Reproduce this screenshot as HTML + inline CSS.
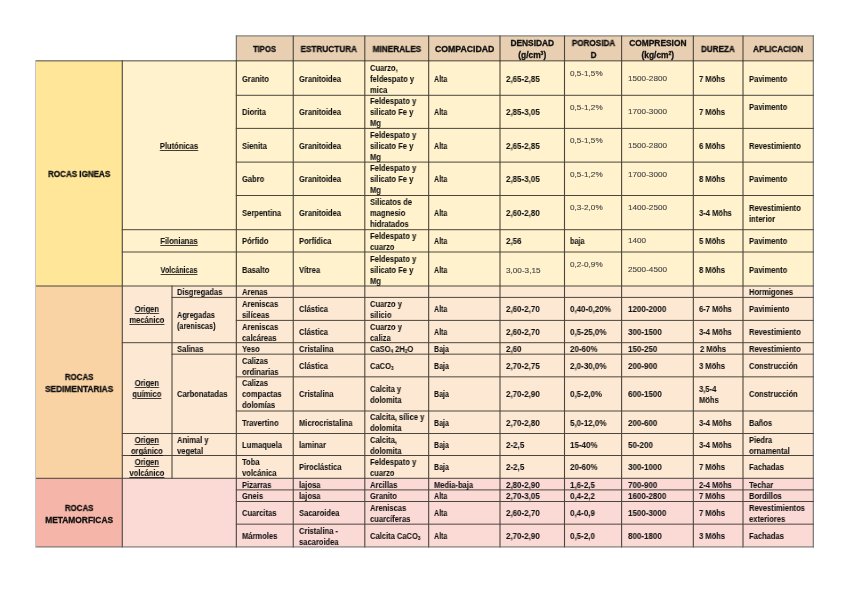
<!DOCTYPE html>
<html><head><meta charset="utf-8"><style>
html,body{margin:0;padding:0;background:#fff;}
body{width:848px;height:599px;position:relative;overflow:hidden;font-family:"Liberation Sans",sans-serif;}
.b{position:absolute}
.th,.td,.tg{position:absolute;white-space:nowrap;color:#111;will-change:transform}
.th{font-weight:bold;-webkit-text-stroke:0.3px #111}
.td{font-weight:bold;-webkit-text-stroke:0.05px #111}
.tg{color:#444;font-weight:normal;-webkit-text-stroke:0.12px #444}
sub{font-size:60%;vertical-align:-1px;line-height:0}
sup{font-size:60%;vertical-align:3px;line-height:0}
u{text-decoration-thickness:1px;text-underline-offset:0.6px;text-decoration-color:rgba(0,0,0,0.75)}
svg{position:absolute;left:0;top:0}
</style></head><body>
<div class="b" style="left:236.33px;top:35.9px;width:56.92px;height:24.95px;background:#E9CFB1"></div><div class="b" style="left:293.25px;top:35.9px;width:71.55px;height:24.95px;background:#E9CFB1"></div><div class="b" style="left:364.8px;top:35.9px;width:63.87px;height:24.95px;background:#E9CFB1"></div><div class="b" style="left:428.67px;top:35.9px;width:71.33px;height:24.95px;background:#E9CFB1"></div><div class="b" style="left:500.0px;top:35.9px;width:64.50px;height:24.95px;background:#E9CFB1"></div><div class="b" style="left:564.5px;top:35.9px;width:57.10px;height:24.95px;background:#E9CFB1"></div><div class="b" style="left:621.6px;top:35.9px;width:71.73px;height:24.95px;background:#E9CFB1"></div><div class="b" style="left:693.33px;top:35.9px;width:49.67px;height:24.95px;background:#E9CFB1"></div><div class="b" style="left:743.0px;top:35.9px;width:70.30px;height:24.95px;background:#E9CFB1"></div><div class="b" style="left:36.0px;top:60.85px;width:86.30px;height:225.15px;background:#FFE699"></div><div class="b" style="left:122.3px;top:60.85px;width:691.00px;height:225.15px;background:#FFF2CC"></div><div class="b" style="left:36.0px;top:286.0px;width:86.30px;height:192.30px;background:#FAD3A4"></div><div class="b" style="left:122.3px;top:286.0px;width:691.00px;height:192.30px;background:#FDE9D3"></div><div class="b" style="left:36.0px;top:478.3px;width:86.30px;height:68.65px;background:#F5B5A8"></div><div class="b" style="left:122.3px;top:478.3px;width:691.00px;height:68.65px;background:#FBDAD6"></div>
<svg width="848" height="599" stroke="#4b463c" shape-rendering="geometricPrecision"><line x1="235.83" y1="35.9" x2="813.8" y2="35.9" stroke-width="1.0" stroke="#686868"/><line x1="236.33" y1="35.4" x2="236.33" y2="61.35" stroke-width="1.1" stroke="#686868"/><line x1="293.25" y1="35.4" x2="293.25" y2="61.35" stroke-width="1.1"/><line x1="364.8" y1="35.4" x2="364.8" y2="61.35" stroke-width="1.1"/><line x1="428.67" y1="35.4" x2="428.67" y2="61.35" stroke-width="1.1"/><line x1="500.0" y1="35.4" x2="500.0" y2="61.35" stroke-width="1.1"/><line x1="564.5" y1="35.4" x2="564.5" y2="61.35" stroke-width="1.1"/><line x1="621.6" y1="35.4" x2="621.6" y2="61.35" stroke-width="1.1"/><line x1="693.33" y1="35.4" x2="693.33" y2="61.35" stroke-width="1.1"/><line x1="743.0" y1="35.4" x2="743.0" y2="61.35" stroke-width="1.1"/><line x1="813.3" y1="35.4" x2="813.3" y2="61.35" stroke-width="1.1" stroke="#686868"/><line x1="35.5" y1="60.85" x2="813.8" y2="60.85" stroke-width="1.0"/><line x1="122.3" y1="60.35" x2="122.3" y2="547.45" stroke-width="1.1"/><line x1="236.33" y1="60.35" x2="236.33" y2="547.45" stroke-width="1.1"/><line x1="293.25" y1="60.35" x2="293.25" y2="547.45" stroke-width="1.1"/><line x1="364.8" y1="60.35" x2="364.8" y2="547.45" stroke-width="1.1"/><line x1="428.67" y1="60.35" x2="428.67" y2="547.45" stroke-width="1.1"/><line x1="500.0" y1="60.35" x2="500.0" y2="547.45" stroke-width="1.1"/><line x1="564.5" y1="60.35" x2="564.5" y2="547.45" stroke-width="1.1"/><line x1="621.6" y1="60.35" x2="621.6" y2="547.45" stroke-width="1.1"/><line x1="693.33" y1="60.35" x2="693.33" y2="547.45" stroke-width="1.1"/><line x1="743.0" y1="60.35" x2="743.0" y2="547.45" stroke-width="1.1"/><line x1="813.3" y1="60.35" x2="813.3" y2="547.45" stroke-width="1.1" stroke="#686868"/><line x1="172.0" y1="285.5" x2="172.0" y2="478.8" stroke-width="1.1"/><line x1="235.83" y1="95.3" x2="813.8" y2="95.3" stroke-width="1.0"/><line x1="235.83" y1="128.4" x2="813.8" y2="128.4" stroke-width="1.0"/><line x1="235.83" y1="162.1" x2="813.8" y2="162.1" stroke-width="1.0"/><line x1="235.83" y1="195.5" x2="813.8" y2="195.5" stroke-width="1.0"/><line x1="121.8" y1="229.7" x2="813.8" y2="229.7" stroke-width="1.0"/><line x1="121.8" y1="252.0" x2="813.8" y2="252.0" stroke-width="1.0"/><line x1="35.5" y1="286.0" x2="813.8" y2="286.0" stroke-width="1.0"/><line x1="171.5" y1="297.4" x2="813.8" y2="297.4" stroke-width="1.0"/><line x1="235.83" y1="320.4" x2="813.8" y2="320.4" stroke-width="1.0"/><line x1="121.8" y1="342.7" x2="813.8" y2="342.7" stroke-width="1.0"/><line x1="171.5" y1="354.15" x2="813.8" y2="354.15" stroke-width="1.0"/><line x1="235.83" y1="376.85" x2="813.8" y2="376.85" stroke-width="1.0"/><line x1="235.83" y1="411.0" x2="813.8" y2="411.0" stroke-width="1.0"/><line x1="121.8" y1="433.5" x2="813.8" y2="433.5" stroke-width="1.0"/><line x1="121.8" y1="455.5" x2="813.8" y2="455.5" stroke-width="1.0"/><line x1="35.5" y1="478.3" x2="813.8" y2="478.3" stroke-width="1.0"/><line x1="235.83" y1="489.9" x2="813.8" y2="489.9" stroke-width="1.0"/><line x1="235.83" y1="501.5" x2="813.8" y2="501.5" stroke-width="1.0"/><line x1="235.83" y1="524.15" x2="813.8" y2="524.15" stroke-width="1.0"/><line x1="35.5" y1="546.95" x2="813.8" y2="546.95" stroke-width="1.0" stroke="#686868"/><line x1="35.5" y1="60.85" x2="35.5" y2="547.45" stroke="#c4c4cc" stroke-width="1"/></svg>
<div class="th" style="left:236.33px;width:56.92px;top:43.46px;text-align:center;font-size:8.4px;line-height:12px;transform:scaleX(0.92);transform-origin:50% 0">TIPOS</div><div class="th" style="left:293.25px;width:71.55px;top:43.46px;text-align:center;font-size:8.4px;line-height:12px;transform:scaleX(0.98);transform-origin:50% 0">ESTRUCTURA</div><div class="th" style="left:364.80px;width:63.87px;top:43.46px;text-align:center;font-size:8.4px;line-height:12px;transform:scaleX(0.98);transform-origin:50% 0">MINERALES</div><div class="th" style="left:428.67px;width:71.33px;top:43.46px;text-align:center;font-size:8.4px;line-height:12px;transform:scaleX(1.04);transform-origin:50% 0">COMPACIDAD</div><div class="th" style="left:500.00px;width:64.50px;top:37.46px;text-align:center;font-size:8.4px;line-height:12px;transform-origin:50% 0">DENSIDAD<br>(g/cm<sup>3</sup>)</div><div class="th" style="left:564.50px;width:57.10px;top:37.46px;text-align:center;font-size:8.4px;line-height:12px;transform:scaleX(0.97);transform-origin:50% 0">POROSIDA<br>D</div><div class="th" style="left:621.60px;width:71.73px;top:37.46px;text-align:center;font-size:8.4px;line-height:12px;transform-origin:50% 0">COMPRESION<br>(kg/cm<sup>2</sup>)</div><div class="th" style="left:693.33px;width:49.67px;top:43.46px;text-align:center;font-size:8.4px;line-height:12px;transform:scaleX(0.97);transform-origin:50% 0">DUREZA</div><div class="th" style="left:743.00px;width:70.30px;top:43.46px;text-align:center;font-size:8.4px;line-height:12px;transform:scaleX(0.96);transform-origin:50% 0">APLICACION</div><div class="th" style="left:36.00px;width:86.30px;top:169.01px;text-align:center;font-size:8.4px;line-height:11.0px;transform:scaleX(0.96);transform-origin:50% 0">ROCAS IGNEAS</div><div class="th" style="left:36.00px;width:86.30px;top:371.14px;text-align:center;font-size:8.4px;line-height:12px;transform:scaleX(0.94);transform-origin:50% 0">ROCAS</div><div class="th" style="left:36.00px;width:86.30px;top:383.34px;text-align:center;font-size:8.4px;line-height:12px;transform:scaleX(0.99);transform-origin:50% 0">SEDIMENTARIAS</div><div class="th" style="left:36.00px;width:86.30px;top:501.61px;text-align:center;font-size:8.4px;line-height:12px;transform:scaleX(0.94);transform-origin:50% 0">ROCAS</div><div class="th" style="left:36.00px;width:86.30px;top:513.81px;text-align:center;font-size:8.4px;line-height:12px;transform-origin:50% 0">METAMORFICAS</div><div class="td" style="left:122.30px;width:114.03px;top:140.83px;text-align:center;font-size:8.5px;line-height:11.0px;transform:scaleX(0.89);transform-origin:50% 0"><u>Plutónicas</u></div><div class="td" style="left:122.30px;width:114.03px;top:236.40px;text-align:center;font-size:8.5px;line-height:11.0px;transform:scaleX(0.89);transform-origin:50% 0"><u>Filonianas</u></div><div class="td" style="left:122.30px;width:114.03px;top:264.55px;text-align:center;font-size:8.5px;line-height:11.0px;transform:scaleX(0.84);transform-origin:50% 0"><u>Volcánicas</u></div><div class="td" style="left:122.30px;width:49.70px;top:304.40px;text-align:center;font-size:8.5px;line-height:11.0px;transform:scaleX(0.89);transform-origin:50% 0"><u>Origen<br>mecánico</u></div><div class="td" style="left:122.30px;width:49.70px;top:378.15px;text-align:center;font-size:8.5px;line-height:11.0px;transform:scaleX(0.89);transform-origin:50% 0"><u>Origen<br>químico</u></div><div class="td" style="left:122.30px;width:49.70px;top:434.55px;text-align:center;font-size:8.5px;line-height:11.0px;transform:scaleX(0.89);transform-origin:50% 0"><u>Origen<br>orgánico</u></div><div class="td" style="left:122.30px;width:49.70px;top:456.95px;text-align:center;font-size:8.5px;line-height:11.0px;transform:scaleX(0.89);transform-origin:50% 0"><u>Origen<br>volcánico</u></div><div class="td" style="left:177.30px;top:287.25px;font-size:8.5px;line-height:11.0px;transform:scaleX(0.89);transform-origin:0 0">Disgregadas</div><div class="td" style="left:177.30px;top:310.10px;font-size:8.5px;line-height:11.0px;transform:scaleX(0.86);transform-origin:0 0">Agregadas<br>(areniscas)</div><div class="td" style="left:177.30px;top:343.98px;font-size:8.5px;line-height:11.0px;transform:scaleX(0.89);transform-origin:0 0">Salinas</div><div class="td" style="left:177.30px;top:389.38px;font-size:8.5px;line-height:11.0px;transform:scaleX(0.89);transform-origin:0 0">Carbonatadas</div><div class="td" style="left:177.30px;top:434.55px;font-size:8.5px;line-height:11.0px;transform:scaleX(0.89);transform-origin:0 0">Animal y<br>vegetal</div><div class="td" style="left:241.63px;top:73.63px;font-size:8.5px;line-height:11.0px;transform:scaleX(0.89);transform-origin:0 0">Granito</div><div class="td" style="left:298.55px;top:73.63px;font-size:8.5px;line-height:11.0px;transform:scaleX(0.89);transform-origin:0 0">Granitoidea</div><div class="td" style="left:370.10px;top:62.63px;font-size:8.5px;line-height:11.0px;transform:scaleX(0.89);transform-origin:0 0">Cuarzo,<br>feldespato y<br>mica</div><div class="td" style="left:433.97px;top:73.63px;font-size:8.5px;line-height:11.0px;transform:scaleX(0.83);transform-origin:0 0">Alta</div><div class="td" style="left:505.70px;top:73.63px;font-size:8.5px;line-height:11.0px;transform:scaleX(0.94);transform-origin:0 0">2,65-2,85</div><div class="tg" style="left:569.80px;top:67.78px;font-size:8.0px;line-height:11.0px;transform:scaleX(1.02);transform-origin:0 0">0,5-1,5%</div><div class="tg" style="left:627.70px;top:72.60px;font-size:8.0px;line-height:11.0px;transform:scaleX(1.02);transform-origin:0 0">1500-2800</div><div class="td" style="left:699.13px;top:73.63px;font-size:8.5px;line-height:11.0px;transform:scaleX(0.89);transform-origin:0 0">7 Möhs</div><div class="td" style="left:749.30px;top:73.63px;font-size:8.5px;line-height:11.0px;transform:scaleX(0.89);transform-origin:0 0">Pavimento</div><div class="td" style="left:241.63px;top:107.40px;font-size:8.5px;line-height:11.0px;transform:scaleX(0.89);transform-origin:0 0">Diorita</div><div class="td" style="left:298.55px;top:107.40px;font-size:8.5px;line-height:11.0px;transform:scaleX(0.89);transform-origin:0 0">Granitoidea</div><div class="td" style="left:370.10px;top:96.40px;font-size:8.5px;line-height:11.0px;transform:scaleX(0.89);transform-origin:0 0">Feldespato y<br>silicato Fe y<br>Mg</div><div class="td" style="left:433.97px;top:107.40px;font-size:8.5px;line-height:11.0px;transform:scaleX(0.83);transform-origin:0 0">Alta</div><div class="td" style="left:505.70px;top:107.40px;font-size:8.5px;line-height:11.0px;transform:scaleX(0.94);transform-origin:0 0">2,85-3,05</div><div class="tg" style="left:569.80px;top:102.23px;font-size:8.0px;line-height:11.0px;transform:scaleX(1.02);transform-origin:0 0">0,5-1,2%</div><div class="tg" style="left:627.70px;top:106.38px;font-size:8.0px;line-height:11.0px;transform:scaleX(1.02);transform-origin:0 0">1700-3000</div><div class="td" style="left:699.13px;top:107.40px;font-size:8.5px;line-height:11.0px;transform:scaleX(0.89);transform-origin:0 0">7 Möhs</div><div class="td" style="left:749.30px;top:102.05px;font-size:8.5px;line-height:11.0px;transform:scaleX(0.89);transform-origin:0 0">Pavimento</div><div class="td" style="left:241.63px;top:140.80px;font-size:8.5px;line-height:11.0px;transform:scaleX(0.89);transform-origin:0 0">Sienita</div><div class="td" style="left:298.55px;top:140.80px;font-size:8.5px;line-height:11.0px;transform:scaleX(0.89);transform-origin:0 0">Granitoidea</div><div class="td" style="left:370.10px;top:129.80px;font-size:8.5px;line-height:11.0px;transform:scaleX(0.89);transform-origin:0 0">Feldespato y<br>silicato Fe y<br>Mg</div><div class="td" style="left:433.97px;top:140.80px;font-size:8.5px;line-height:11.0px;transform:scaleX(0.83);transform-origin:0 0">Alta</div><div class="td" style="left:505.70px;top:140.80px;font-size:8.5px;line-height:11.0px;transform:scaleX(0.94);transform-origin:0 0">2,65-2,85</div><div class="tg" style="left:569.80px;top:135.33px;font-size:8.0px;line-height:11.0px;transform:scaleX(1.02);transform-origin:0 0">0,5-1,5%</div><div class="tg" style="left:627.70px;top:139.78px;font-size:8.0px;line-height:11.0px;transform:scaleX(1.02);transform-origin:0 0">1500-2800</div><div class="td" style="left:699.13px;top:140.80px;font-size:8.5px;line-height:11.0px;transform:scaleX(0.89);transform-origin:0 0">6 Möhs</div><div class="td" style="left:749.30px;top:140.80px;font-size:8.5px;line-height:11.0px;transform:scaleX(0.89);transform-origin:0 0">Revestimiento</div><div class="td" style="left:241.63px;top:174.35px;font-size:8.5px;line-height:11.0px;transform:scaleX(0.89);transform-origin:0 0">Gabro</div><div class="td" style="left:298.55px;top:174.35px;font-size:8.5px;line-height:11.0px;transform:scaleX(0.89);transform-origin:0 0">Granitoidea</div><div class="td" style="left:370.10px;top:163.35px;font-size:8.5px;line-height:11.0px;transform:scaleX(0.89);transform-origin:0 0">Feldespato y<br>silicato Fe y<br>Mg</div><div class="td" style="left:433.97px;top:174.35px;font-size:8.5px;line-height:11.0px;transform:scaleX(0.83);transform-origin:0 0">Alta</div><div class="td" style="left:505.70px;top:174.35px;font-size:8.5px;line-height:11.0px;transform:scaleX(0.94);transform-origin:0 0">2,85-3,05</div><div class="tg" style="left:569.80px;top:169.03px;font-size:8.0px;line-height:11.0px;transform:scaleX(1.02);transform-origin:0 0">0,5-1,2%</div><div class="tg" style="left:627.70px;top:169.03px;font-size:8.0px;line-height:11.0px;transform:scaleX(1.02);transform-origin:0 0">1700-3000</div><div class="td" style="left:699.13px;top:174.35px;font-size:8.5px;line-height:11.0px;transform:scaleX(0.89);transform-origin:0 0">8 Möhs</div><div class="td" style="left:749.30px;top:174.35px;font-size:8.5px;line-height:11.0px;transform:scaleX(0.89);transform-origin:0 0">Pavimento</div><div class="td" style="left:241.63px;top:208.15px;font-size:8.5px;line-height:11.0px;transform:scaleX(0.89);transform-origin:0 0">Serpentina</div><div class="td" style="left:298.55px;top:208.15px;font-size:8.5px;line-height:11.0px;transform:scaleX(0.89);transform-origin:0 0">Granitoidea</div><div class="td" style="left:370.10px;top:197.15px;font-size:8.5px;line-height:11.0px;transform:scaleX(0.89);transform-origin:0 0">Silicatos de<br>magnesio<br>hidratados</div><div class="td" style="left:433.97px;top:208.15px;font-size:8.5px;line-height:11.0px;transform:scaleX(0.83);transform-origin:0 0">Alta</div><div class="td" style="left:505.70px;top:208.15px;font-size:8.5px;line-height:11.0px;transform:scaleX(0.94);transform-origin:0 0">2,60-2,80</div><div class="tg" style="left:569.80px;top:202.43px;font-size:8.0px;line-height:11.0px;transform:scaleX(1.02);transform-origin:0 0">0,3-2,0%</div><div class="tg" style="left:627.70px;top:202.43px;font-size:8.0px;line-height:11.0px;transform:scaleX(1.02);transform-origin:0 0">1400-2500</div><div class="td" style="left:699.13px;top:208.15px;font-size:8.5px;line-height:11.0px;transform:scaleX(0.89);transform-origin:0 0">3-4 Möhs</div><div class="td" style="left:749.30px;top:202.65px;font-size:8.5px;line-height:11.0px;transform:scaleX(0.89);transform-origin:0 0">Revestimiento<br>interior</div><div class="td" style="left:241.63px;top:236.40px;font-size:8.5px;line-height:11.0px;transform:scaleX(0.89);transform-origin:0 0">Pórfido</div><div class="td" style="left:298.55px;top:236.40px;font-size:8.5px;line-height:11.0px;transform:scaleX(0.89);transform-origin:0 0">Porfídica</div><div class="td" style="left:370.10px;top:230.90px;font-size:8.5px;line-height:11.0px;transform:scaleX(0.89);transform-origin:0 0">Feldespato y<br>cuarzo</div><div class="td" style="left:433.97px;top:236.40px;font-size:8.5px;line-height:11.0px;transform:scaleX(0.83);transform-origin:0 0">Alta</div><div class="td" style="left:505.70px;top:236.40px;font-size:8.5px;line-height:11.0px;transform:scaleX(0.94);transform-origin:0 0">2,56</div><div class="td" style="left:569.80px;top:236.40px;font-size:8.5px;line-height:11.0px;transform:scaleX(0.85);transform-origin:0 0">baja</div><div class="tg" style="left:627.70px;top:235.38px;font-size:8.0px;line-height:11.0px;transform:scaleX(1.02);transform-origin:0 0">1400</div><div class="td" style="left:699.13px;top:236.40px;font-size:8.5px;line-height:11.0px;transform:scaleX(0.89);transform-origin:0 0">5 Möhs</div><div class="td" style="left:749.30px;top:236.40px;font-size:8.5px;line-height:11.0px;transform:scaleX(0.89);transform-origin:0 0">Pavimento</div><div class="td" style="left:241.63px;top:264.55px;font-size:8.5px;line-height:11.0px;transform:scaleX(0.89);transform-origin:0 0">Basalto</div><div class="td" style="left:298.55px;top:264.55px;font-size:8.5px;line-height:11.0px;transform:scaleX(0.89);transform-origin:0 0">Vítrea</div><div class="td" style="left:370.10px;top:253.55px;font-size:8.5px;line-height:11.0px;transform:scaleX(0.89);transform-origin:0 0">Feldespato y<br>silicato Fe y<br>Mg</div><div class="td" style="left:433.97px;top:264.55px;font-size:8.5px;line-height:11.0px;transform:scaleX(0.83);transform-origin:0 0">Alta</div><div class="tg" style="left:505.70px;top:264.73px;font-size:8.0px;line-height:11.0px;transform:scaleX(1.02);transform-origin:0 0">3,00-3,15</div><div class="tg" style="left:569.80px;top:258.93px;font-size:8.0px;line-height:11.0px;transform:scaleX(1.02);transform-origin:0 0">0,2-0,9%</div><div class="tg" style="left:627.70px;top:263.53px;font-size:8.0px;line-height:11.0px;transform:scaleX(1.02);transform-origin:0 0">2500-4500</div><div class="td" style="left:699.13px;top:264.55px;font-size:8.5px;line-height:11.0px;transform:scaleX(0.89);transform-origin:0 0">8 Möhs</div><div class="td" style="left:749.30px;top:264.55px;font-size:8.5px;line-height:11.0px;transform:scaleX(0.89);transform-origin:0 0">Pavimento</div><div class="td" style="left:241.63px;top:287.25px;font-size:8.5px;line-height:11.0px;transform:scaleX(0.89);transform-origin:0 0">Arenas</div><div class="td" style="left:749.30px;top:287.25px;font-size:8.5px;line-height:11.0px;transform:scaleX(0.89);transform-origin:0 0">Hormigones</div><div class="td" style="left:241.63px;top:298.95px;font-size:8.5px;line-height:11.0px;transform:scaleX(0.89);transform-origin:0 0">Areniscas<br>silíceas</div><div class="td" style="left:298.55px;top:304.45px;font-size:8.5px;line-height:11.0px;transform:scaleX(0.89);transform-origin:0 0">Clástica</div><div class="td" style="left:370.10px;top:298.95px;font-size:8.5px;line-height:11.0px;transform:scaleX(0.89);transform-origin:0 0">Cuarzo y<br>silicio</div><div class="td" style="left:433.97px;top:304.45px;font-size:8.5px;line-height:11.0px;transform:scaleX(0.83);transform-origin:0 0">Alta</div><div class="td" style="left:505.70px;top:304.45px;font-size:8.5px;line-height:11.0px;transform:scaleX(0.94);transform-origin:0 0">2,60-2,70</div><div class="td" style="left:569.80px;top:304.45px;font-size:8.5px;line-height:11.0px;transform:scaleX(0.94);transform-origin:0 0">0,40-0,20%</div><div class="td" style="left:627.70px;top:304.45px;font-size:8.5px;line-height:11.0px;transform:scaleX(0.94);transform-origin:0 0">1200-2000</div><div class="td" style="left:699.13px;top:304.45px;font-size:8.5px;line-height:11.0px;transform:scaleX(0.89);transform-origin:0 0">6-7 Möhs</div><div class="td" style="left:749.30px;top:304.45px;font-size:8.5px;line-height:11.0px;transform:scaleX(0.89);transform-origin:0 0">Pavimiento</div><div class="td" style="left:241.63px;top:321.60px;font-size:8.5px;line-height:11.0px;transform:scaleX(0.89);transform-origin:0 0">Areniscas<br>calcáreas</div><div class="td" style="left:298.55px;top:327.10px;font-size:8.5px;line-height:11.0px;transform:scaleX(0.89);transform-origin:0 0">Clástica</div><div class="td" style="left:370.10px;top:321.60px;font-size:8.5px;line-height:11.0px;transform:scaleX(0.89);transform-origin:0 0">Cuarzo y<br>caliza</div><div class="td" style="left:433.97px;top:327.10px;font-size:8.5px;line-height:11.0px;transform:scaleX(0.83);transform-origin:0 0">Alta</div><div class="td" style="left:505.70px;top:327.10px;font-size:8.5px;line-height:11.0px;transform:scaleX(0.94);transform-origin:0 0">2,60-2,70</div><div class="td" style="left:569.80px;top:327.10px;font-size:8.5px;line-height:11.0px;transform:scaleX(0.94);transform-origin:0 0">0,5-25,0%</div><div class="td" style="left:627.70px;top:327.10px;font-size:8.5px;line-height:11.0px;transform:scaleX(0.94);transform-origin:0 0">300-1500</div><div class="td" style="left:699.13px;top:327.10px;font-size:8.5px;line-height:11.0px;transform:scaleX(0.89);transform-origin:0 0">3-4 Möhs</div><div class="td" style="left:749.30px;top:327.10px;font-size:8.5px;line-height:11.0px;transform:scaleX(0.89);transform-origin:0 0">Revestimiento</div><div class="td" style="left:241.63px;top:343.98px;font-size:8.5px;line-height:11.0px;transform:scaleX(0.89);transform-origin:0 0">Yeso</div><div class="td" style="left:298.55px;top:343.98px;font-size:8.5px;line-height:11.0px;transform:scaleX(0.89);transform-origin:0 0">Cristalina</div><div class="td" style="left:370.10px;top:343.98px;font-size:8.5px;line-height:11.0px;transform:scaleX(0.89);transform-origin:0 0">CaSO<sub>4</sub> 2H<sub>2</sub>O</div><div class="td" style="left:433.97px;top:343.98px;font-size:8.5px;line-height:11.0px;transform:scaleX(0.83);transform-origin:0 0">Baja</div><div class="td" style="left:505.70px;top:343.98px;font-size:8.5px;line-height:11.0px;transform:scaleX(0.94);transform-origin:0 0">2,60</div><div class="td" style="left:569.80px;top:343.98px;font-size:8.5px;line-height:11.0px;transform:scaleX(0.94);transform-origin:0 0">20-60%</div><div class="td" style="left:627.70px;top:343.98px;font-size:8.5px;line-height:11.0px;transform:scaleX(0.94);transform-origin:0 0">150-250</div><div class="td" style="left:700.33px;top:343.98px;font-size:8.5px;line-height:11.0px;transform:scaleX(0.89);transform-origin:0 0">2 Möhs</div><div class="td" style="left:749.30px;top:343.98px;font-size:8.5px;line-height:11.0px;transform:scaleX(0.89);transform-origin:0 0">Revestimiento</div><div class="td" style="left:241.63px;top:355.55px;font-size:8.5px;line-height:11.0px;transform:scaleX(0.89);transform-origin:0 0">Calizas<br>ordinarias</div><div class="td" style="left:298.55px;top:361.05px;font-size:8.5px;line-height:11.0px;transform:scaleX(0.89);transform-origin:0 0">Clástica</div><div class="td" style="left:370.10px;top:361.05px;font-size:8.5px;line-height:11.0px;transform:scaleX(0.89);transform-origin:0 0">CaCO<sub>3</sub></div><div class="td" style="left:433.97px;top:361.05px;font-size:8.5px;line-height:11.0px;transform:scaleX(0.83);transform-origin:0 0">Baja</div><div class="td" style="left:505.70px;top:361.05px;font-size:8.5px;line-height:11.0px;transform:scaleX(0.94);transform-origin:0 0">2,70-2,75</div><div class="td" style="left:569.80px;top:361.05px;font-size:8.5px;line-height:11.0px;transform:scaleX(0.94);transform-origin:0 0">2,0-30,0%</div><div class="td" style="left:627.70px;top:361.05px;font-size:8.5px;line-height:11.0px;transform:scaleX(0.94);transform-origin:0 0">200-900</div><div class="td" style="left:699.13px;top:361.05px;font-size:8.5px;line-height:11.0px;transform:scaleX(0.89);transform-origin:0 0">3 Möhs</div><div class="td" style="left:749.30px;top:361.05px;font-size:8.5px;line-height:11.0px;transform:scaleX(0.89);transform-origin:0 0">Construcción</div><div class="td" style="left:241.63px;top:378.48px;font-size:8.5px;line-height:11.0px;transform:scaleX(0.89);transform-origin:0 0">Calizas<br>compactas<br>dolomías</div><div class="td" style="left:298.55px;top:389.48px;font-size:8.5px;line-height:11.0px;transform:scaleX(0.89);transform-origin:0 0">Cristalina</div><div class="td" style="left:370.10px;top:383.98px;font-size:8.5px;line-height:11.0px;transform:scaleX(0.89);transform-origin:0 0">Calcita y<br>dolomita</div><div class="td" style="left:433.97px;top:389.48px;font-size:8.5px;line-height:11.0px;transform:scaleX(0.83);transform-origin:0 0">Baja</div><div class="td" style="left:505.70px;top:389.48px;font-size:8.5px;line-height:11.0px;transform:scaleX(0.94);transform-origin:0 0">2,70-2,90</div><div class="td" style="left:569.80px;top:389.48px;font-size:8.5px;line-height:11.0px;transform:scaleX(0.94);transform-origin:0 0">0,5-2,0%</div><div class="td" style="left:627.70px;top:389.48px;font-size:8.5px;line-height:11.0px;transform:scaleX(0.94);transform-origin:0 0">600-1500</div><div class="td" style="left:699.13px;top:383.98px;font-size:8.5px;line-height:11.0px;transform:scaleX(0.89);transform-origin:0 0">3,5-4<br>Möhs</div><div class="td" style="left:749.30px;top:389.48px;font-size:8.5px;line-height:11.0px;transform:scaleX(0.89);transform-origin:0 0">Construcción</div><div class="td" style="left:241.63px;top:417.80px;font-size:8.5px;line-height:11.0px;transform:scaleX(0.89);transform-origin:0 0">Travertino</div><div class="td" style="left:298.55px;top:417.80px;font-size:8.5px;line-height:11.0px;transform:scaleX(0.89);transform-origin:0 0">Microcristalina</div><div class="td" style="left:370.10px;top:412.30px;font-size:8.5px;line-height:11.0px;transform:scaleX(0.89);transform-origin:0 0">Calcita, sílice y<br>dolomita</div><div class="td" style="left:433.97px;top:417.80px;font-size:8.5px;line-height:11.0px;transform:scaleX(0.83);transform-origin:0 0">Baja</div><div class="td" style="left:505.70px;top:417.80px;font-size:8.5px;line-height:11.0px;transform:scaleX(0.94);transform-origin:0 0">2,70-2,80</div><div class="td" style="left:569.80px;top:417.80px;font-size:8.5px;line-height:11.0px;transform:scaleX(0.94);transform-origin:0 0">5,0-12,0%</div><div class="td" style="left:627.70px;top:417.80px;font-size:8.5px;line-height:11.0px;transform:scaleX(0.94);transform-origin:0 0">200-600</div><div class="td" style="left:699.13px;top:417.80px;font-size:8.5px;line-height:11.0px;transform:scaleX(0.89);transform-origin:0 0">3-4 Möhs</div><div class="td" style="left:749.30px;top:417.80px;font-size:8.5px;line-height:11.0px;transform:scaleX(0.89);transform-origin:0 0">Baños</div><div class="td" style="left:241.63px;top:440.05px;font-size:8.5px;line-height:11.0px;transform:scaleX(0.89);transform-origin:0 0">Lumaquela</div><div class="td" style="left:298.55px;top:440.05px;font-size:8.5px;line-height:11.0px;transform:scaleX(0.89);transform-origin:0 0">laminar</div><div class="td" style="left:370.10px;top:434.55px;font-size:8.5px;line-height:11.0px;transform:scaleX(0.89);transform-origin:0 0">Calcita,<br>dolomita</div><div class="td" style="left:433.97px;top:440.05px;font-size:8.5px;line-height:11.0px;transform:scaleX(0.83);transform-origin:0 0">Baja</div><div class="td" style="left:505.70px;top:440.05px;font-size:8.5px;line-height:11.0px;transform:scaleX(0.94);transform-origin:0 0">2-2,5</div><div class="td" style="left:569.80px;top:440.05px;font-size:8.5px;line-height:11.0px;transform:scaleX(0.94);transform-origin:0 0">15-40%</div><div class="td" style="left:627.70px;top:440.05px;font-size:8.5px;line-height:11.0px;transform:scaleX(0.94);transform-origin:0 0">50-200</div><div class="td" style="left:699.13px;top:440.05px;font-size:8.5px;line-height:11.0px;transform:scaleX(0.89);transform-origin:0 0">3-4 Möhs</div><div class="td" style="left:749.30px;top:434.55px;font-size:8.5px;line-height:11.0px;transform:scaleX(0.89);transform-origin:0 0">Piedra<br>ornamental</div><div class="td" style="left:241.63px;top:456.95px;font-size:8.5px;line-height:11.0px;transform:scaleX(0.89);transform-origin:0 0">Toba<br>volcánica</div><div class="td" style="left:298.55px;top:462.45px;font-size:8.5px;line-height:11.0px;transform:scaleX(0.89);transform-origin:0 0">Piroclástica</div><div class="td" style="left:370.10px;top:456.95px;font-size:8.5px;line-height:11.0px;transform:scaleX(0.89);transform-origin:0 0">Feldespato y<br>cuarzo</div><div class="td" style="left:433.97px;top:462.45px;font-size:8.5px;line-height:11.0px;transform:scaleX(0.83);transform-origin:0 0">Baja</div><div class="td" style="left:505.70px;top:462.45px;font-size:8.5px;line-height:11.0px;transform:scaleX(0.94);transform-origin:0 0">2-2,5</div><div class="td" style="left:569.80px;top:462.45px;font-size:8.5px;line-height:11.0px;transform:scaleX(0.94);transform-origin:0 0">20-60%</div><div class="td" style="left:627.70px;top:462.45px;font-size:8.5px;line-height:11.0px;transform:scaleX(0.94);transform-origin:0 0">300-1000</div><div class="td" style="left:699.13px;top:462.45px;font-size:8.5px;line-height:11.0px;transform:scaleX(0.89);transform-origin:0 0">7 Möhs</div><div class="td" style="left:749.30px;top:462.45px;font-size:8.5px;line-height:11.0px;transform:scaleX(0.89);transform-origin:0 0">Fachadas</div><div class="td" style="left:241.63px;top:479.65px;font-size:8.5px;line-height:11.0px;transform:scaleX(0.89);transform-origin:0 0">Pizarras</div><div class="td" style="left:298.55px;top:479.65px;font-size:8.5px;line-height:11.0px;transform:scaleX(0.89);transform-origin:0 0">lajosa</div><div class="td" style="left:370.10px;top:479.65px;font-size:8.5px;line-height:11.0px;transform:scaleX(0.89);transform-origin:0 0">Arcillas</div><div class="td" style="left:433.97px;top:479.65px;font-size:8.5px;line-height:11.0px;transform:scaleX(0.89);transform-origin:0 0">Media-baja</div><div class="td" style="left:505.70px;top:479.65px;font-size:8.5px;line-height:11.0px;transform:scaleX(0.94);transform-origin:0 0">2,80-2,90</div><div class="td" style="left:569.80px;top:479.65px;font-size:8.5px;line-height:11.0px;transform:scaleX(0.94);transform-origin:0 0">1,6-2,5</div><div class="td" style="left:627.70px;top:479.65px;font-size:8.5px;line-height:11.0px;transform:scaleX(0.94);transform-origin:0 0">700-900</div><div class="td" style="left:699.13px;top:479.65px;font-size:8.5px;line-height:11.0px;transform:scaleX(0.89);transform-origin:0 0">2-4 Möhs</div><div class="td" style="left:749.30px;top:479.65px;font-size:8.5px;line-height:11.0px;transform:scaleX(0.89);transform-origin:0 0">Techar</div><div class="td" style="left:241.63px;top:491.25px;font-size:8.5px;line-height:11.0px;transform:scaleX(0.89);transform-origin:0 0">Gneis</div><div class="td" style="left:298.55px;top:491.25px;font-size:8.5px;line-height:11.0px;transform:scaleX(0.89);transform-origin:0 0">lajosa</div><div class="td" style="left:370.10px;top:491.25px;font-size:8.5px;line-height:11.0px;transform:scaleX(0.89);transform-origin:0 0">Granito</div><div class="td" style="left:433.97px;top:491.25px;font-size:8.5px;line-height:11.0px;transform:scaleX(0.83);transform-origin:0 0">Alta</div><div class="td" style="left:505.70px;top:491.25px;font-size:8.5px;line-height:11.0px;transform:scaleX(0.94);transform-origin:0 0">2,70-3,05</div><div class="td" style="left:569.80px;top:491.25px;font-size:8.5px;line-height:11.0px;transform:scaleX(0.94);transform-origin:0 0">0,4-2,2</div><div class="td" style="left:627.70px;top:491.25px;font-size:8.5px;line-height:11.0px;transform:scaleX(0.94);transform-origin:0 0">1600-2800</div><div class="td" style="left:699.13px;top:491.25px;font-size:8.5px;line-height:11.0px;transform:scaleX(0.89);transform-origin:0 0">7 Möhs</div><div class="td" style="left:749.30px;top:491.25px;font-size:8.5px;line-height:11.0px;transform:scaleX(0.89);transform-origin:0 0">Bordillos</div><div class="td" style="left:241.63px;top:508.38px;font-size:8.5px;line-height:11.0px;transform:scaleX(0.89);transform-origin:0 0">Cuarcitas</div><div class="td" style="left:298.55px;top:508.38px;font-size:8.5px;line-height:11.0px;transform:scaleX(0.89);transform-origin:0 0">Sacaroidea</div><div class="td" style="left:370.10px;top:502.88px;font-size:8.5px;line-height:11.0px;transform:scaleX(0.89);transform-origin:0 0">Areniscas<br>cuarcíferas</div><div class="td" style="left:433.97px;top:508.38px;font-size:8.5px;line-height:11.0px;transform:scaleX(0.83);transform-origin:0 0">Alta</div><div class="td" style="left:505.70px;top:508.38px;font-size:8.5px;line-height:11.0px;transform:scaleX(0.94);transform-origin:0 0">2,60-2,70</div><div class="td" style="left:569.80px;top:508.38px;font-size:8.5px;line-height:11.0px;transform:scaleX(0.94);transform-origin:0 0">0,4-0,9</div><div class="td" style="left:627.70px;top:508.38px;font-size:8.5px;line-height:11.0px;transform:scaleX(0.94);transform-origin:0 0">1500-3000</div><div class="td" style="left:699.13px;top:508.38px;font-size:8.5px;line-height:11.0px;transform:scaleX(0.89);transform-origin:0 0">7 Möhs</div><div class="td" style="left:749.30px;top:502.88px;font-size:8.5px;line-height:11.0px;transform:scaleX(0.89);transform-origin:0 0">Revestimientos<br>exteriores</div><div class="td" style="left:241.63px;top:531.10px;font-size:8.5px;line-height:11.0px;transform:scaleX(0.89);transform-origin:0 0">Mármoles</div><div class="td" style="left:298.55px;top:525.60px;font-size:8.5px;line-height:11.0px;transform:scaleX(0.89);transform-origin:0 0">Cristalina -<br>sacaroidea</div><div class="td" style="left:370.10px;top:531.10px;font-size:8.5px;line-height:11.0px;transform:scaleX(0.89);transform-origin:0 0">Calcita CaCO<sub>3</sub></div><div class="td" style="left:433.97px;top:531.10px;font-size:8.5px;line-height:11.0px;transform:scaleX(0.83);transform-origin:0 0">Alta</div><div class="td" style="left:505.70px;top:531.10px;font-size:8.5px;line-height:11.0px;transform:scaleX(0.94);transform-origin:0 0">2,70-2,90</div><div class="td" style="left:569.80px;top:531.10px;font-size:8.5px;line-height:11.0px;transform:scaleX(0.94);transform-origin:0 0">0,5-2,0</div><div class="td" style="left:627.70px;top:531.10px;font-size:8.5px;line-height:11.0px;transform:scaleX(0.94);transform-origin:0 0">800-1800</div><div class="td" style="left:699.13px;top:531.10px;font-size:8.5px;line-height:11.0px;transform:scaleX(0.89);transform-origin:0 0">3 Möhs</div><div class="td" style="left:749.30px;top:531.10px;font-size:8.5px;line-height:11.0px;transform:scaleX(0.89);transform-origin:0 0">Fachadas</div>
</body></html>
